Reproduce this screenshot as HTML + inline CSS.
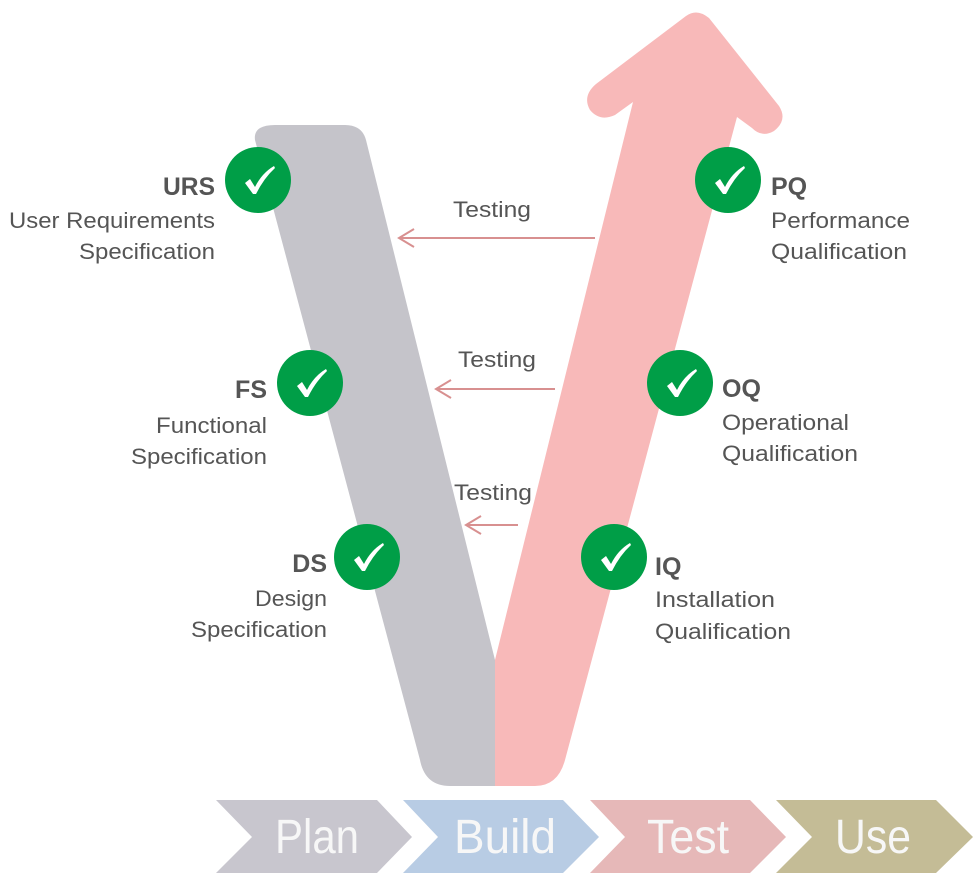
<!DOCTYPE html>
<html><head><meta charset="utf-8"><style>
html,body{margin:0;padding:0;background:#fff;}
svg{display:block;}
text{font-family:"Liberation Sans",sans-serif;fill:#555;}
</style></head><body>
<svg width="978" height="893" viewBox="0 0 978 893" xmlns="http://www.w3.org/2000/svg">
<!-- gray leg -->
<path d="M255,140 Q253,125 275,125 L345,125 Q362,125 366,140 L495,660 L495,786 L450,786 Q425,786 420,760 Z" fill="#c5c4ca"/>
<!-- pink leg with arrow -->
<path d="M495,660 L633,102 L615,115 Q600,122 590,110 Q582,96 596,84 L686,16 Q697,8 709,18 L779,106 Q788,120 774,131 Q762,138 752,128 L737,117 L565,760 Q558,786 535,786 L495,786 Z" fill="#f8b9b9"/>
<!-- testing arrows -->
<g stroke="#d89090" stroke-width="2" fill="none">
<line x1="595" y1="238" x2="399" y2="238"/><polyline points="414,229 399,238 414,247"/>
<line x1="555" y1="389" x2="436" y2="389"/><polyline points="451,380 436,389 451,398"/>
<line x1="518" y1="525" x2="466" y2="525"/><polyline points="481,516 466,525 481,534"/>
</g>
<text x="492" y="217" font-size="22" text-anchor="middle" textLength="78" lengthAdjust="spacingAndGlyphs">Testing</text>
<text x="497" y="367" font-size="22" text-anchor="middle" textLength="78" lengthAdjust="spacingAndGlyphs">Testing</text>
<text x="493" y="500" font-size="22" text-anchor="middle" textLength="78" lengthAdjust="spacingAndGlyphs">Testing</text>
<!-- circles -->
<g fill="#009e47">
<circle cx="258" cy="180" r="33"/><circle cx="310" cy="383" r="33"/><circle cx="367" cy="557" r="33"/>
<circle cx="728" cy="180" r="33"/><circle cx="680" cy="383" r="33"/><circle cx="614" cy="557" r="33"/>
</g>
<g fill="#fff">
<path d="M245,183 L250,179 L255,187 Q262,173 274,166 L275,168 Q264,178 256,194 L253,194 Z"/>
<path d="M297,386 L302,382 L307,390 Q314,376 326,369 L327,371 Q316,381 308,397 L305,397 Z"/>
<path d="M354,560 L359,556 L364,564 Q371,550 383,543 L384,545 Q373,555 365,571 L362,571 Z"/>
<path d="M715,183 L720,179 L725,187 Q732,173 744,166 L745,168 Q734,178 726,194 L723,194 Z"/>
<path d="M667,386 L672,382 L677,390 Q684,376 696,369 L697,371 Q686,381 678,397 L675,397 Z"/>
<path d="M601,560 L606,556 L611,564 Q618,550 630,543 L631,545 Q620,555 612,571 L609,571 Z"/>
</g>
<!-- left labels -->
<g text-anchor="end">
<text x="215" y="195" font-size="25" font-weight="bold" textLength="52" lengthAdjust="spacingAndGlyphs">URS</text>
<text x="215" y="228" font-size="22" textLength="206" lengthAdjust="spacingAndGlyphs">User Requirements</text>
<text x="215" y="259" font-size="22" textLength="136" lengthAdjust="spacingAndGlyphs">Specification</text>
<text x="267" y="398" font-size="25" font-weight="bold">FS</text>
<text x="267" y="433" font-size="22" textLength="111" lengthAdjust="spacingAndGlyphs">Functional</text>
<text x="267" y="464" font-size="22" textLength="136" lengthAdjust="spacingAndGlyphs">Specification</text>
<text x="327" y="572" font-size="25" font-weight="bold">DS</text>
<text x="327" y="606" font-size="22" textLength="72" lengthAdjust="spacingAndGlyphs">Design</text>
<text x="327" y="637" font-size="22" textLength="136" lengthAdjust="spacingAndGlyphs">Specification</text>
</g>
<!-- right labels -->
<text x="771" y="195" font-size="25" font-weight="bold">PQ</text>
<text x="771" y="228" font-size="22" textLength="139" lengthAdjust="spacingAndGlyphs">Performance</text>
<text x="771" y="259" font-size="22" textLength="136" lengthAdjust="spacingAndGlyphs">Qualification</text>
<text x="722" y="397" font-size="25" font-weight="bold">OQ</text>
<text x="722" y="430" font-size="22" textLength="127" lengthAdjust="spacingAndGlyphs">Operational</text>
<text x="722" y="461" font-size="22" textLength="136" lengthAdjust="spacingAndGlyphs">Qualification</text>
<text x="655" y="575" font-size="25" font-weight="bold">IQ</text>
<text x="655" y="607" font-size="22" textLength="120" lengthAdjust="spacingAndGlyphs">Installation</text>
<text x="655" y="639" font-size="22" textLength="136" lengthAdjust="spacingAndGlyphs">Qualification</text>
<!-- chevrons -->
<polygon points="216,800 377,800 412,837 377,873 216,873 252,837" fill="#c8c6ce"/>
<polygon points="403,800 563,800 599,837 563,873 403,873 438,837" fill="#b8cce4"/>
<polygon points="590,800 750,800 786,837 750,873 590,873 625,837" fill="#e6b8b8"/>
<polygon points="776,800 936,800 973,837 936,873 776,873 812,837" fill="#c4bc96"/>
<g font-size="48" text-anchor="middle">
<text x="317" y="853" style="fill:#f7f7f7" textLength="84" lengthAdjust="spacingAndGlyphs">Plan</text>
<text x="505" y="853" style="fill:#f7f7f7" textLength="102" lengthAdjust="spacingAndGlyphs">Build</text>
<text x="688" y="853" style="fill:#f7f7f7" textLength="82" lengthAdjust="spacingAndGlyphs">Test</text>
<text x="873" y="853" style="fill:#f7f7f7" textLength="76" lengthAdjust="spacingAndGlyphs">Use</text>
</g>
</svg>
</body></html>
